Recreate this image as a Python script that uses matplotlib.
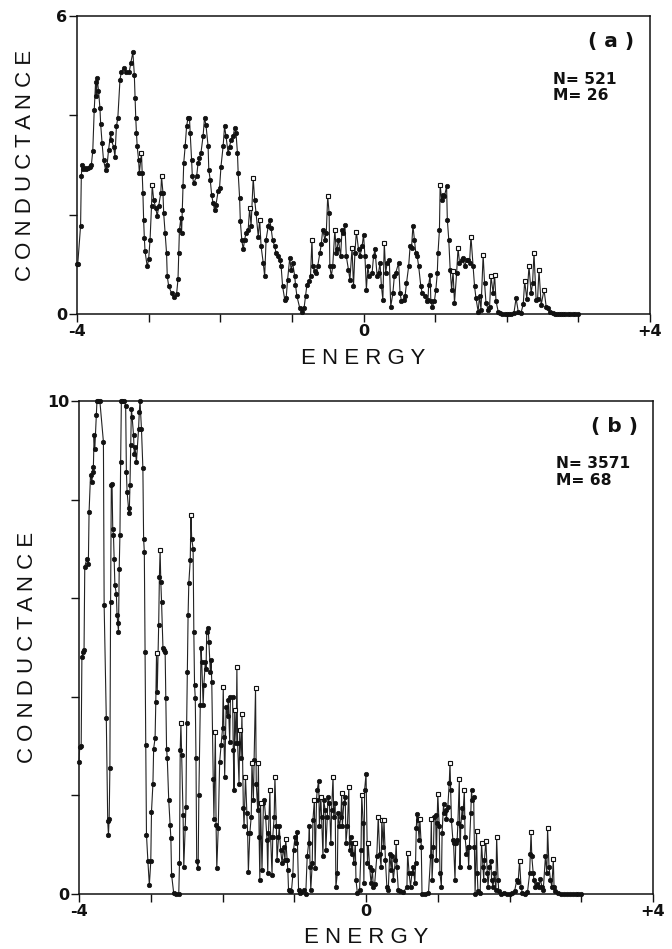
import numpy as np
import matplotlib
matplotlib.use("Agg")
import matplotlib.pyplot as plt

# --- panel (a): N=521, M=26 ---
ea = [-4.00, -3.99, -3.95, -3.94, -3.93, -3.91, -3.89, -3.87, -3.85, -3.82,
      -3.80, -3.78, -3.76, -3.74, -3.73, -3.72, -3.70, -3.68, -3.67, -3.65,
      -3.63, -3.60, -3.58, -3.56, -3.53, -3.52, -3.49, -3.47, -3.45, -3.43,
      -3.40, -3.38, -3.35, -3.31, -3.27, -3.25, -3.22, -3.20, -3.19, -3.18,
      -3.17, -3.16, -3.14, -3.13, -3.10, -3.09, -3.08, -3.07, -3.06, -3.05,
      -3.02, -3.00, -2.98, -2.96, -2.95, -2.93, -2.90, -2.88, -2.86, -2.83,
      -2.82, -2.80, -2.79, -2.77, -2.75, -2.74, -2.72, -2.68, -2.65, -2.61,
      -2.59, -2.58, -2.57, -2.55, -2.54, -2.53, -2.52, -2.51, -2.49, -2.47,
      -2.45, -2.43, -2.42, -2.40, -2.39, -2.37, -2.33, -2.31, -2.29, -2.27,
      -2.24, -2.22, -2.20, -2.17, -2.16, -2.14, -2.12, -2.10, -2.08, -2.06,
      -2.03, -2.01, -1.99, -1.96, -1.94, -1.92, -1.89, -1.87, -1.85, -1.82,
      -1.80, -1.78, -1.76, -1.75, -1.73, -1.72, -1.70, -1.68, -1.66, -1.64,
      -1.61, -1.59, -1.57, -1.54, -1.52, -1.50, -1.47, -1.45, -1.43, -1.40,
      -1.38, -1.36, -1.33, -1.31, -1.29, -1.27, -1.24, -1.22, -1.20, -1.17,
      -1.15, -1.13, -1.10, -1.08, -1.06, -1.03, -1.01, -0.99, -0.96, -0.95,
      -0.93, -0.89, -0.86, -0.83, -0.81, -0.79, -0.76, -0.74, -0.72, -0.71,
      -0.68, -0.66, -0.64, -0.61, -0.59, -0.57, -0.54, -0.52, -0.50, -0.48,
      -0.47, -0.45, -0.43, -0.40, -0.38, -0.37, -0.35, -0.32, -0.30, -0.28,
      -0.26, -0.24, -0.21, -0.19, -0.16, -0.14, -0.12, -0.10, -0.07, -0.05,
      -0.02, 0.00, 0.02, 0.04, 0.06, 0.08, 0.12, 0.14, 0.16, 0.19,
      0.21, 0.23, 0.25, 0.27, 0.29, 0.31, 0.33, 0.36, 0.38, 0.41,
      0.43, 0.45, 0.49, 0.51, 0.53, 0.56, 0.58, 0.60, 0.63, 0.65,
      0.67, 0.69, 0.71, 0.73, 0.75, 0.77, 0.80, 0.82, 0.86, 0.88,
      0.90, 0.91, 0.93, 0.94, 0.96, 0.99, 1.01, 1.03, 1.04, 1.06,
      1.07, 1.09, 1.11, 1.13, 1.16, 1.17, 1.19, 1.21, 1.23, 1.25,
      1.27, 1.30, 1.32, 1.34, 1.37, 1.39, 1.41, 1.44, 1.46, 1.48,
      1.50, 1.53, 1.55, 1.57, 1.60, 1.62, 1.64, 1.67, 1.69, 1.71,
      1.74, 1.76, 1.78, 1.81, 1.83, 1.85, 1.88, 1.90, 1.94, 1.97,
      2.00, 2.03, 2.06, 2.10, 2.13, 2.16, 2.20, 2.23, 2.25, 2.28,
      2.31, 2.34, 2.36, 2.38, 2.41, 2.43, 2.45, 2.48, 2.52, 2.55,
      2.57, 2.60, 2.64, 2.67, 2.70, 2.73, 2.76, 2.78, 2.81, 2.85,
      2.88, 2.92, 2.95, 2.99]
ga = [1.00, 1.00, 1.78, 2.77, 3.00, 2.92, 2.95, 2.92, 2.95, 2.97,
      3.00, 3.28, 4.10, 4.68, 4.38, 4.75, 4.50, 4.15, 3.83, 3.44,
      3.10, 2.90, 3.00, 3.30, 3.64, 3.50, 3.37, 3.17, 3.78, 3.95,
      4.72, 4.88, 4.95, 4.88, 4.88, 5.05, 5.27, 4.82, 4.35, 3.95,
      3.64, 3.38, 3.10, 2.84, 3.24, 2.84, 2.44, 1.90, 1.53, 1.26,
      0.96, 1.10, 1.50, 2.17, 2.60, 2.30, 2.13, 1.97, 2.17, 2.44,
      2.77, 2.44, 2.03, 1.63, 1.23, 0.76, 0.56, 0.42, 0.34, 0.40,
      0.70, 1.23, 1.70, 1.93, 1.63, 2.10, 2.57, 3.04, 3.38, 3.78,
      3.95, 3.95, 3.64, 3.10, 2.77, 2.64, 2.77, 3.04, 3.14, 3.24,
      3.58, 3.95, 3.81, 3.38, 2.90, 2.70, 2.40, 2.23, 2.10, 2.20,
      2.47, 2.54, 2.97, 3.38, 3.78, 3.58, 3.24, 3.37, 3.51, 3.58,
      3.74, 3.64, 3.24, 2.84, 2.34, 1.87, 1.50, 1.30, 1.50, 1.63,
      1.70, 2.13, 1.77, 2.74, 2.30, 2.03, 1.56, 1.90, 1.36, 1.03,
      0.76, 1.50, 1.77, 1.90, 1.73, 1.50, 1.36, 1.23, 1.16, 1.09,
      0.96, 0.56, 0.29, 0.32, 0.69, 1.13, 0.89, 1.03, 0.76, 0.59,
      0.36, 0.12, 0.05, 0.12, 0.36, 0.59, 0.66, 0.76, 1.50, 0.96,
      0.86, 0.83, 0.96, 1.23, 1.40, 1.70, 1.50, 1.63, 2.37, 2.03,
      0.96, 0.76, 0.96, 1.70, 1.23, 1.30, 1.50, 1.16, 1.70, 1.63,
      1.80, 1.16, 0.89, 0.69, 1.33, 0.56, 1.23, 1.66, 1.30, 1.16,
      1.36, 1.60, 1.16, 0.49, 0.96, 0.76, 0.83, 1.16, 1.30, 0.76,
      0.83, 1.03, 0.56, 0.29, 1.43, 0.83, 1.03, 1.09, 0.15, 0.42,
      0.76, 0.83, 1.03, 0.42, 0.26, 0.29, 0.36, 0.62, 0.96, 1.36,
      1.33, 1.78, 1.50, 1.23, 1.16, 0.96, 0.56, 0.42, 0.36, 0.26,
      0.29, 0.59, 0.79, 0.26, 0.15, 0.26, 0.49, 0.83, 1.23, 1.70,
      2.60, 2.30, 2.40, 2.37, 2.57, 1.90, 1.50, 0.89, 0.49, 0.86,
      0.22, 0.83, 1.33, 1.03, 1.09, 1.13, 0.96, 1.09, 1.09, 1.03,
      1.56, 0.96, 0.56, 0.32, 0.05, 0.36, 0.09, 1.19, 0.62, 0.22,
      0.09, 0.15, 0.76, 0.42, 0.79, 0.26, 0.05, 0.02, 0.00, 0.01,
      0.01, 0.00, 0.00, 0.02, 0.32, 0.05, 0.03, 0.20, 0.66, 0.30,
      0.96, 0.42, 0.62, 1.23, 0.28, 0.30, 0.89, 0.18, 0.49, 0.15,
      0.12, 0.05, 0.03, 0.01, 0.00, 0.00, 0.00, 0.00, 0.00, 0.00,
      0.00, 0.00, 0.00, 0.00]

# --- panel (b): N=3571, M=68 (values above 10 drawn at the top edge) ---
eb = [-4.00, -3.99, -3.97, -3.96, -3.94, -3.93, -3.92, -3.89, -3.87, -3.86,
      -3.84, -3.82, -3.81, -3.80, -3.79, -3.78, -3.76, -3.75, -3.73, -3.71,
      -3.66, -3.65, -3.62, -3.60, -3.59, -3.58, -3.57, -3.56, -3.55, -3.54,
      -3.53, -3.52, -3.51, -3.50, -3.48, -3.47, -3.46, -3.45, -3.44, -3.43,
      -3.42, -3.41, -3.40, -3.37, -3.35, -3.34, -3.33, -3.31, -3.30, -3.29,
      -3.28, -3.27, -3.26, -3.24, -3.23, -3.22, -3.20, -3.17, -3.16, -3.15,
      -3.13, -3.11, -3.10, -3.09, -3.08, -3.07, -3.06, -3.04, -3.02, -3.00,
      -2.99, -2.97, -2.96, -2.94, -2.93, -2.92, -2.91, -2.89, -2.88, -2.87,
      -2.86, -2.85, -2.83, -2.81, -2.80, -2.79, -2.78, -2.77, -2.75, -2.73,
      -2.72, -2.71, -2.68, -2.65, -2.61, -2.60, -2.59, -2.58, -2.57, -2.55,
      -2.54, -2.52, -2.51, -2.50, -2.49, -2.48, -2.47, -2.45, -2.44, -2.43,
      -2.41, -2.40, -2.39, -2.38, -2.37, -2.36, -2.34, -2.33, -2.31, -2.30,
      -2.29, -2.27, -2.26, -2.24, -2.23, -2.22, -2.20, -2.19, -2.17, -2.16,
      -2.15, -2.13, -2.12, -2.10, -2.09, -2.08, -2.06, -2.04, -2.02, -2.00,
      -1.99, -1.98, -1.97, -1.95, -1.93, -1.92, -1.90, -1.89, -1.86, -1.85,
      -1.84, -1.83, -1.81, -1.80, -1.79, -1.77, -1.76, -1.74, -1.73, -1.71,
      -1.70, -1.68, -1.66, -1.65, -1.64, -1.62, -1.60, -1.59, -1.57, -1.56,
      -1.54, -1.53, -1.51, -1.50, -1.49, -1.48, -1.47, -1.45, -1.43, -1.42,
      -1.40, -1.38, -1.37, -1.36, -1.34, -1.33, -1.31, -1.30, -1.28, -1.27,
      -1.25, -1.24, -1.22, -1.21, -1.19, -1.17, -1.15, -1.13, -1.12, -1.10,
      -1.09, -1.08, -1.06, -1.04, -1.02, -1.01, -0.99, -0.97, -0.96, -0.94,
      -0.92, -0.90, -0.87, -0.84, -0.82, -0.80, -0.79, -0.78, -0.77, -0.75,
      -0.74, -0.72, -0.71, -0.69, -0.68, -0.66, -0.65, -0.63, -0.62, -0.60,
      -0.59, -0.57, -0.56, -0.54, -0.53, -0.51, -0.49, -0.48, -0.46, -0.45,
      -0.43, -0.42, -0.40, -0.39, -0.37, -0.35, -0.34, -0.33, -0.31, -0.29,
      -0.28, -0.26, -0.24, -0.23, -0.21, -0.20, -0.19, -0.17, -0.15, -0.14,
      -0.12, -0.09, -0.07, -0.06, -0.04, -0.03, -0.02, 0.00, 0.02, 0.03,
      0.05, 0.07, 0.09, 0.10, 0.12, 0.15, 0.17, 0.19, 0.21, 0.22,
      0.24, 0.25, 0.27, 0.29, 0.31, 0.33, 0.35, 0.36, 0.38, 0.41,
      0.42, 0.43, 0.45, 0.47, 0.52, 0.57, 0.58, 0.60, 0.62, 0.64,
      0.66, 0.68, 0.69, 0.70, 0.71, 0.72, 0.74, 0.75, 0.77, 0.78,
      0.82, 0.87, 0.90, 0.91, 0.92, 0.94, 0.95, 0.97, 0.98, 0.99,
      1.00, 1.02, 1.03, 1.05, 1.06, 1.08, 1.09, 1.11, 1.12, 1.14,
      1.16, 1.17, 1.18, 1.19, 1.21, 1.22, 1.24, 1.25, 1.27, 1.28,
      1.30, 1.31, 1.32, 1.34, 1.35, 1.37, 1.38, 1.40, 1.42, 1.43,
      1.44, 1.46, 1.47, 1.48, 1.50, 1.51, 1.52, 1.54, 1.55, 1.56,
      1.59, 1.61, 1.63, 1.64, 1.65, 1.67, 1.69, 1.70, 1.72, 1.74,
      1.75, 1.77, 1.79, 1.81, 1.82, 1.84, 1.85, 1.88, 1.92, 1.96,
      2.00, 2.04, 2.07, 2.10, 2.12, 2.14, 2.16, 2.18, 2.22, 2.25,
      2.28, 2.29, 2.30, 2.31, 2.33, 2.34, 2.36, 2.38, 2.41, 2.43,
      2.45, 2.47, 2.50, 2.52, 2.53, 2.55, 2.57, 2.59, 2.61, 2.62,
      2.64, 2.68, 2.72, 2.76, 2.80, 2.84, 2.88, 2.92, 2.96, 3.00]
gb = [2.68, 2.99, 3.00, 4.81, 4.91, 4.95, 6.64, 6.80, 6.70, 7.75,
      8.49, 8.36, 8.56, 8.66, 9.30, 9.03, 9.71, 10.0, 10.0, 10.0,
      9.17, 5.86, 3.56, 1.47, 1.20, 1.53, 2.55, 5.93, 8.29, 8.32,
      7.41, 7.28, 6.80, 6.26, 6.09, 5.66, 5.49, 5.32, 6.60, 7.28,
      8.76, 10.0, 10.0, 10.0, 9.90, 8.56, 8.16, 7.82, 7.72, 8.29,
      9.10, 9.84, 9.68, 9.30, 8.93, 9.07, 8.76, 9.44, 9.78, 10.0,
      9.44, 8.63, 7.21, 6.94, 4.91, 3.02, 1.20, 0.66, 0.18, 0.66,
      1.67, 2.24, 2.95, 3.16, 3.90, 4.88, 4.10, 5.45, 6.43, 6.97,
      6.33, 5.93, 4.98, 4.95, 4.91, 3.97, 2.95, 2.75, 1.91, 1.40,
      1.13, 0.39, 0.01, 0.00, 0.00, 0.62, 2.92, 3.46, 2.82, 1.60,
      0.55, 1.33, 1.77, 3.46, 4.51, 5.66, 6.30, 6.77, 7.68, 7.21,
      7.00, 5.32, 4.24, 3.97, 2.75, 0.66, 0.52, 2.00, 3.83, 4.98,
      4.71, 3.83, 4.24, 4.71, 4.57, 5.32, 5.39, 5.11, 4.51, 4.74,
      4.30, 2.34, 1.53, 3.29, 1.40, 0.52, 1.33, 2.68, 3.02, 3.36,
      4.20, 3.19, 2.38, 3.80, 3.60, 3.94, 3.09, 4.00, 4.00, 2.92,
      2.11, 3.73, 3.06, 4.60, 3.06, 2.24, 3.33, 2.75, 3.66, 1.74,
      1.37, 2.38, 1.64, 1.23, 0.45, 1.23, 1.57, 2.65, 1.91, 2.72,
      4.18, 2.24, 1.70, 2.65, 1.16, 0.28, 1.84, 0.49, 1.84, 1.91,
      1.57, 1.10, 0.42, 1.23, 2.11, 1.16, 0.39, 1.16, 1.57, 2.38,
      1.37, 0.69, 1.16, 1.37, 0.89, 0.62, 0.96, 0.69, 1.12, 0.69,
      0.49, 0.08, 0.05, 0.05, 0.39, 0.89, 1.16, 1.03, 1.26, 0.08,
      0.01, 0.03, 0.08, 0.00, 0.76, 1.03, 1.37, 0.55, 0.08, 0.62,
      1.50, 1.91, 0.52, 1.91, 2.11, 2.30, 1.37, 1.97, 1.57, 0.76,
      1.91, 1.70, 0.89, 1.57, 1.97, 1.84, 1.03, 1.70, 2.38, 1.57,
      1.84, 0.14, 0.42, 1.64, 1.37, 1.57, 2.04, 1.37, 1.84, 1.97,
      1.03, 1.37, 2.16, 0.89, 1.16, 0.82, 1.03, 0.62, 1.03, 0.28,
      0.01, 0.08, 0.89, 2.01, 1.43, 0.22, 2.11, 2.43, 0.62, 1.03,
      0.55, 0.22, 0.49, 0.15, 0.20, 0.76, 1.57, 0.82, 0.55, 1.50,
      0.96, 1.50, 0.69, 0.15, 0.08, 0.82, 0.49, 0.76, 0.28, 0.69,
      1.06, 0.55, 0.08, 0.05, 0.03, 0.15, 0.84, 0.42, 0.15, 0.42,
      0.55, 0.22, 0.62, 1.33, 1.62, 1.50, 1.10, 1.53, 0.96, 0.00,
      0.00, 0.01, 0.76, 1.52, 0.28, 0.96, 1.57, 1.60, 0.69, 1.43,
      2.03, 1.37, 0.42, 0.15, 1.23, 1.83, 1.64, 1.70, 1.53, 1.77,
      2.26, 2.66, 2.11, 1.50, 1.10, 1.03, 0.28, 1.03, 1.10, 1.43,
      2.33, 0.55, 1.37, 1.74, 1.57, 2.11, 1.16, 0.82, 0.96, 0.55,
      0.96, 1.64, 2.10, 1.91, 1.97, 0.96, 0.00, 1.28, 0.42, 0.05,
      0.02, 1.03, 0.55, 0.28, 0.69, 1.08, 0.42, 0.15, 0.55, 0.67,
      0.28, 0.15, 0.42, 0.08, 1.16, 0.28, 0.05, 0.00, 0.01, 0.00,
      0.00, 0.01, 0.05, 0.28, 0.25, 0.67, 0.15, 0.01, 0.00, 0.03,
      0.42, 0.82, 1.26, 0.76, 0.42, 0.28, 0.15, 0.20, 0.15, 0.30,
      0.15, 0.08, 0.76, 0.42, 1.33, 0.55, 0.28, 0.15, 0.71, 0.15,
      0.05, 0.01, 0.00, 0.00, 0.00, 0.00, 0.00, 0.00, 0.00, 0.00]

panels = [
    dict(e=ea, g=ga, ymax=6, yticks=[0, 2, 4, 6], tag="( a )", info="N= 521\nM= 26",
         rect=[0.1146, 0.6691, 0.8527, 0.3140], tagy=0.916, infoy=0.76, xlab_y=-0.148,
         rise=0.3),
    dict(e=eb, g=gb, ymax=10, yticks=[0, 2, 4, 6, 8, 10], tag="( b )", info="N= 3571\nM= 68",
         rect=[0.1176, 0.0580, 0.8542, 0.5195], tagy=0.949, infoy=0.856, xlab_y=-0.089,
         rise=0.35),
]

fig = plt.figure(figsize=(6.72, 9.49), dpi=100)
ink = "#111111"
label_font = dict(family=["Liberation Sans", "DejaVu Sans"], fontsize=16, color=ink)

for p in panels:
    ax = fig.add_axes(p["rect"])
    e = np.array(p["e"])
    g = np.array(p["g"])
    ax.plot(e, g, color="#222222", lw=0.8, marker="o", ms=3.2,
            mfc=ink, mec=ink, mew=0.5, clip_on=False, zorder=3)
    # open markers on the sharper peaks
    peak = np.zeros(len(g), dtype=bool)
    peak[1:-1] = ((g[1:-1] - g[:-2] > p["rise"]) & (g[1:-1] - g[2:] > p["rise"])
                  & (g[1:-1] < p["ymax"]))
    ax.plot(e[peak], g[peak], ls="none", marker="s", ms=2.8, mfc="white",
            mec=ink, mew=0.8, zorder=4)

    ax.set_xlim(-4, 4)
    ax.set_ylim(0, p["ymax"])
    ax.set_xticks(range(-4, 5))
    ax.set_xticklabels(["-4", "", "", "", "0", "", "", "", "+4"])
    ax.set_yticks(p["yticks"])
    ax.set_yticklabels(["0"] + [""] * (len(p["yticks"]) - 2) + [str(p["ymax"])])
    ax.tick_params(direction="out", length=6, width=1.0, color=ink,
                   labelsize=11.5, labelcolor=ink, pad=1)
    for lab in ax.get_xticklabels() + ax.get_yticklabels():
        lab.set_fontweight("bold")
    for s in ax.spines.values():
        s.set_linewidth(1.1)
        s.set_color(ink)

    ax.text(0.5, p["xlab_y"], "E N E R G Y", transform=ax.transAxes,
            ha="center", va="center", **label_font)
    ax.text(-0.09, 0.5, "C O N D U C T A N C E", transform=ax.transAxes,
            ha="center", va="center", rotation=90, **label_font)
    ax.text(0.932, p["tagy"], p["tag"], transform=ax.transAxes, ha="center",
            va="center", fontsize=14.5, fontweight="bold", color=ink)
    ax.text(0.831, p["infoy"], p["info"], transform=ax.transAxes, ha="left",
            va="center", fontsize=11.2, fontweight="bold", color=ink,
            linespacing=1.15)

fig.savefig("out.png", dpi=100)
